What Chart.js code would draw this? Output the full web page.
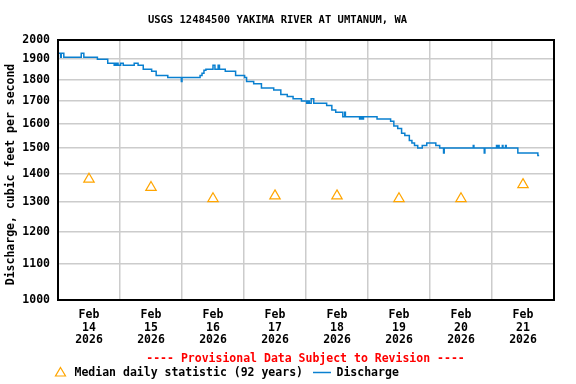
<!DOCTYPE html>
<html>
<head>
<meta charset="utf-8">
<title>USGS 12484500 Yakima River at Umtanum, WA</title>
<script src="https://cdn.jsdelivr.net/npm/chart.js@4.4.1/dist/chart.umd.min.js"></script>
<style>
  html, body { margin: 0; padding: 0; background: #fff; }
  #chart { display: block; }
</style>
</head>
<body>
<canvas id="chart" width="576" height="384"></canvas>
<script>
// Hours since Feb 14 2026 00:00, each value holds until the next point
const dischargeHours = [
  0, 1.0, 1.25, 2.25, 9.0, 10.0, 15.25, 19.25, 21.75, 22.25, 22.5, 23.0, 23.25,
  24.25, 25.25, 29.5, 31.0, 33.0, 36.25, 38.0, 42.5, 47.75, 48.0, 55.0, 55.75,
  56.5, 57.25, 60.0, 60.75, 62.0, 62.5, 64.75, 68.75, 72.25, 73.0, 75.75, 78.75,
  83.5, 86.25, 88.75, 91.0, 94.25, 96.25, 96.75, 97.25, 98.0, 99.0, 104.0, 106.0,
  107.5, 110.25, 111.0, 111.25, 116.75, 117.25, 117.75, 118.25, 123.5, 128.75,
  130.0, 131.5, 133.0, 134.25, 136.0, 137.0, 138.0, 139.25, 141.0, 142.75, 146.25,
  147.75, 149.25, 149.5, 160.75, 161.0, 165.0, 165.25, 169.75, 170.0, 170.5, 170.75,
  172.0, 172.25, 173.25, 173.5, 178.0, 185.75, 186.25
];
const dischargeCfs = [
  1930, 1910, 1930, 1910, 1930, 1910, 1900, 1880, 1870, 1880, 1870, 1880, 1870,
  1880, 1870, 1880, 1870, 1850, 1840, 1820, 1810, 1790, 1810, 1820, 1830,
  1845, 1850, 1870, 1850, 1870, 1850, 1840, 1820, 1810, 1790, 1780, 1760,
  1750, 1730, 1720, 1710, 1700, 1690, 1700, 1690, 1710, 1690, 1680, 1660,
  1650, 1630, 1650, 1630, 1620, 1630, 1620, 1630, 1620, 1610,
  1590, 1580, 1560, 1550, 1530, 1520, 1510, 1500, 1510, 1520, 1510,
  1500, 1480, 1500, 1510, 1500, 1480, 1500, 1510, 1500, 1510, 1500,
  1510, 1500, 1510, 1500, 1480, 1470, 1470
];

// Median daily statistic, plotted at noon of each day
const medianHours = [12, 36, 60, 84, 108, 132, 156, 180];
const medianCfs = [1380, 1350, 1310, 1320, 1320, 1310, 1310, 1360];

const xTickHours = [0, 12, 24, 36, 48, 60, 72, 84, 96, 108, 120, 132, 144, 156, 168, 180, 192];
const xTickLabels = [
  ['Feb', '14', '2026'], ['Feb', '15', '2026'], ['Feb', '16', '2026'], ['Feb', '17', '2026'],
  ['Feb', '18', '2026'], ['Feb', '19', '2026'], ['Feb', '20', '2026'], ['Feb', '21', '2026']
];
const yTicks = [1000, 1100, 1200, 1300, 1400, 1500, 1600, 1700, 1800, 1900, 2000];

const FONT = '"DejaVu Sans Mono", "Liberation Mono", monospace';
const BLUE = '#0a80d0';
const ORANGE = '#ffa500';
const GRID = '#cccccc';

/**
 * Title, axis title, provisional note, legend and plot frame
 */
const decorations = {
  id: 'decorations',
  afterDraw(chart) {
    const { ctx, chartArea } = chart;
    ctx.save();

    // plot frame
    ctx.strokeStyle = '#000';
    ctx.lineWidth = 2;
    ctx.strokeRect(chartArea.left, chartArea.top, chartArea.right - chartArea.left, chartArea.bottom - chartArea.top);

    ctx.fillStyle = '#000';
    ctx.textBaseline = 'middle';

    ctx.font = 'bold 10.5px ' + FONT;
    ctx.textAlign = 'center';
    ctx.fillText('USGS 12484500 YAKIMA RIVER AT UMTANUM, WA', 277.5, 20);

    ctx.font = 'bold 11.5px ' + FONT;
    ctx.save();
    ctx.translate(11.5, 174.5);
    ctx.rotate(-Math.PI / 2);
    ctx.fillText('Discharge, cubic feet per second', 0, 0);
    ctx.restore();

    ctx.fillStyle = '#ff0000';
    ctx.fillText('---- Provisional Data Subject to Revision ----', 305.5, 359);

    // legend
    ctx.strokeStyle = ORANGE;
    ctx.lineWidth = 1.2;
    ctx.beginPath();
    ctx.moveTo(60.5, 367.5);
    ctx.lineTo(65.5, 376);
    ctx.lineTo(55.5, 376);
    ctx.closePath();
    ctx.stroke();

    ctx.fillStyle = '#000';
    ctx.textAlign = 'left';
    ctx.fillText('Median daily statistic (92 years)', 74.5, 373);

    ctx.strokeStyle = BLUE;
    ctx.lineWidth = 1.5;
    ctx.beginPath();
    ctx.moveTo(313, 372.5);
    ctx.lineTo(331, 372.5);
    ctx.stroke();

    ctx.fillText('Discharge', 336.5, 373);
    ctx.restore();
  }
};

new Chart(document.getElementById('chart'), {
  data: {
    datasets: [{
      type: 'line',
      label: 'Discharge',
      data: dischargeHours.map((h, i) => ({ x: h, y: dischargeCfs[i] })),
      borderColor: BLUE,
      borderWidth: 1.5,
      stepped: true,
      pointRadius: 0,
      fill: false
    }, {
      type: 'scatter',
      label: 'Median daily statistic (92 years)',
      data: medianHours.map((h, i) => ({ x: h, y: medianCfs[i] })),
      pointStyle: 'triangle',
      pointRadius: 6,
      borderColor: ORANGE,
      backgroundColor: 'rgba(0,0,0,0)',
      borderWidth: 1.2
    }]
  },
  options: {
    responsive: false,
    animation: false,
    devicePixelRatio: 1,
    layout: { padding: { left: 0, top: 40, right: 22, bottom: 0 } },
    plugins: {
      legend: { display: false },
      title: { display: false },
      tooltip: { enabled: false }
    },
    scales: {
      x: {
        type: 'linear',
        min: 0,
        max: 192,
        afterBuildTicks: scale => { scale.ticks = xTickHours.map(v => ({ value: v })); },
        afterFit: scale => { scale.height = 84; },
        border: { display: false },
        grid: {
          drawTicks: false,
          color: ctx => (ctx.tick && ctx.tick.value % 24 === 0 && ctx.tick.value > 0 && ctx.tick.value < 192) ? GRID : 'rgba(0,0,0,0)',
          lineWidth: 1.5
        },
        ticks: {
          autoSkip: false,
          maxRotation: 0,
          padding: 8.75,
          color: '#000',
          font: { family: FONT, size: 11.5, weight: 'bold', lineHeight: 1.09 },
          callback: value => (value % 24 === 12 ? xTickLabels[(value - 12) / 24] : '')
        }
      },
      y: {
        type: 'logarithmic',
        min: 1000,
        max: 2000,
        afterBuildTicks: scale => { scale.ticks = yTicks.map(v => ({ value: v })); },
        afterFit: scale => { scale.width = 58; },
        border: { display: false },
        grid: { drawTicks: false, color: GRID, lineWidth: 1.5 },
        ticks: {
          autoSkip: false,
          padding: 8,
          color: '#000',
          font: { family: FONT, size: 11.5, weight: 'bold' },
          callback: value => String(value)
        }
      }
    }
  },
  plugins: [decorations]
});
</script>
</body>
</html>
